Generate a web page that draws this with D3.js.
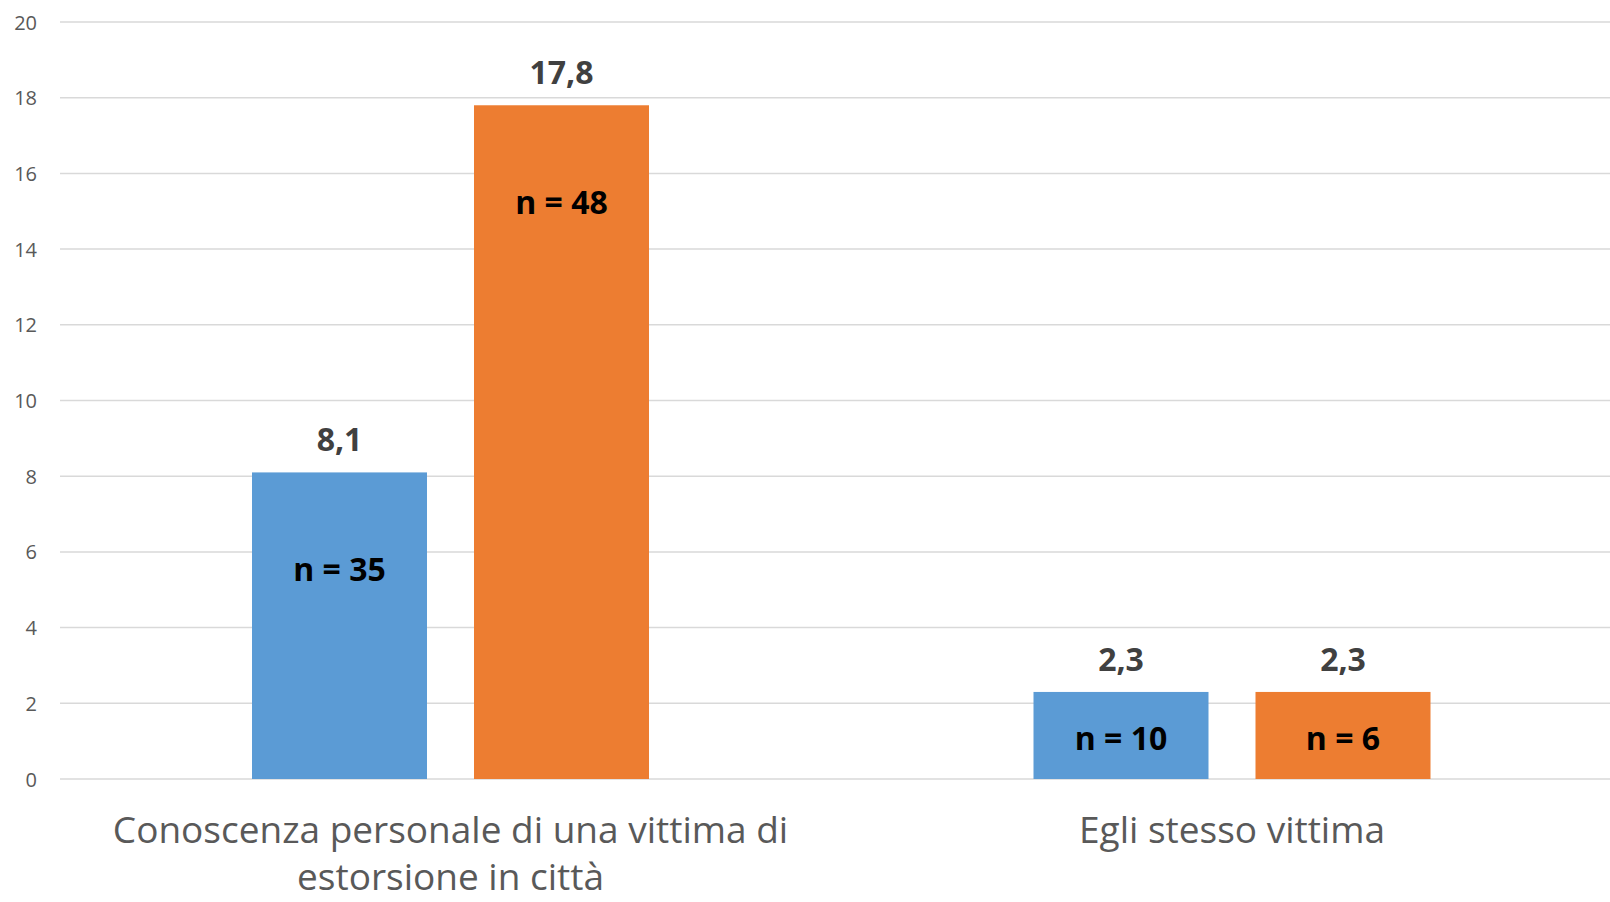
<!DOCTYPE html>
<html>
<head>
<meta charset="utf-8">
<script src="https://cdn.jsdelivr.net/npm/d3@7"></script>
<style>
  html, body { margin: 0; padding: 0; background: #ffffff; overflow: hidden; }
  svg { display: block; }
</style>
</head>
<body>
<svg id="chart" width="1610" height="902"></svg>
<script>
// ---- data ----
const categories = ["Conoscenza personale di una vittima di estorsione in città", "Egli stesso vittima"];
const categoryLines = [["Conoscenza personale di una vittima di", "estorsione in città"], ["Egli stesso vittima"]];
const seriesNames = ["Serie 1", "Serie 2"];
const series1Values = [8.1, 2.3];
const series2Values = [17.8, 2.3];
const series1Counts = ["n = 35", "n = 10"];
const series2Counts = ["n = 48", "n = 6"];
const valueLabels1 = ["8,1", "2,3"];
const valueLabels2 = ["17,8", "2,3"];
const yTicks = [0, 2, 4, 6, 8, 10, 12, 14, 16, 18, 20];

const colors = ["#5b9bd5", "#ed7d31"];

const rows = [];
categories.forEach((c, i) => {
  rows.push({cat: c, s: seriesNames[0], v: series1Values[i], n: series1Counts[i], lbl: valueLabels1[i], col: colors[0]});
  rows.push({cat: c, s: seriesNames[1], v: series2Values[i], n: series2Counts[i], lbl: valueLabels2[i], col: colors[1]});
});

const svg = d3.select("#chart");
const font = "'Open Sans', sans-serif";

const y = d3.scaleLinear().domain([0, 20]).range([779, 22]);
const x0 = d3.scaleBand().domain(categories).range([59.75, 1622.75]).padding(0);
const x1 = d3.scaleBand().domain(seriesNames).range([0, x0.bandwidth()])
  .paddingInner(0.2117).paddingOuter(0.866);

// gridlines
svg.append("g").selectAll("line").data(yTicks).join("line")
  .attr("x1", 60).attr("x2", 1610)
  .attr("y1", d => y(d)).attr("y2", d => y(d))
  .attr("stroke", "#d9d9d9").attr("stroke-width", 1.5);

// y axis labels
const yAxis = d3.axisLeft(y).tickValues(yTicks).tickSize(0).tickPadding(0);
const gy = svg.append("g").attr("transform", "translate(37,0)").call(yAxis);
gy.select(".domain").remove();
gy.selectAll("text")
  .attr("font-family", font).attr("font-size", 20).attr("fill", "#595959")
  .attr("dy", null).attr("y", 7);

// bars
const g = svg.append("g");
const bars = g.selectAll("g.bar").data(rows).join("g").attr("class", "bar")
  .attr("transform", d => `translate(${x0(d.cat) + x1(d.s)},0)`);

bars.append("rect")
  .attr("x", 0).attr("width", x1.bandwidth())
  .attr("y", d => y(d.v)).attr("height", d => y(0) - y(d.v))
  .attr("fill", d => d.col);

bars.append("text")
  .attr("x", x1.bandwidth() / 2)
  .attr("y", d => y(d.v) - 21)
  .attr("text-anchor", "middle")
  .attr("font-family", font).attr("font-weight", "bold").attr("font-size", 32)
  .attr("fill", "#404040")
  .text(d => d.lbl);

bars.append("text")
  .attr("x", x1.bandwidth() / 2)
  .attr("y", d => Math.min(y(d.v) + 109, (y(d.v) + y(0)) / 2 + 15))
  .attr("text-anchor", "middle")
  .attr("font-family", font).attr("font-weight", "bold").attr("font-size", 32)
  .attr("fill", "#000000")
  .text(d => d.n);

// category labels
const cg = svg.append("g").selectAll("text").data(categories).join("text")
  .attr("x", d => x0(d) + x0.bandwidth() / 2)
  .attr("y", 843)
  .attr("text-anchor", "middle")
  .attr("font-family", font).attr("font-size", 37).attr("fill", "#595959");
cg.each(function(d, i) {
  const t = d3.select(this);
  categoryLines[i].forEach((line, j) => {
    t.append("tspan").attr("x", x0(d) + x0.bandwidth() / 2).attr("y", 843 + j * 47).text(line);
  });
});
</script>
</body>
</html>
